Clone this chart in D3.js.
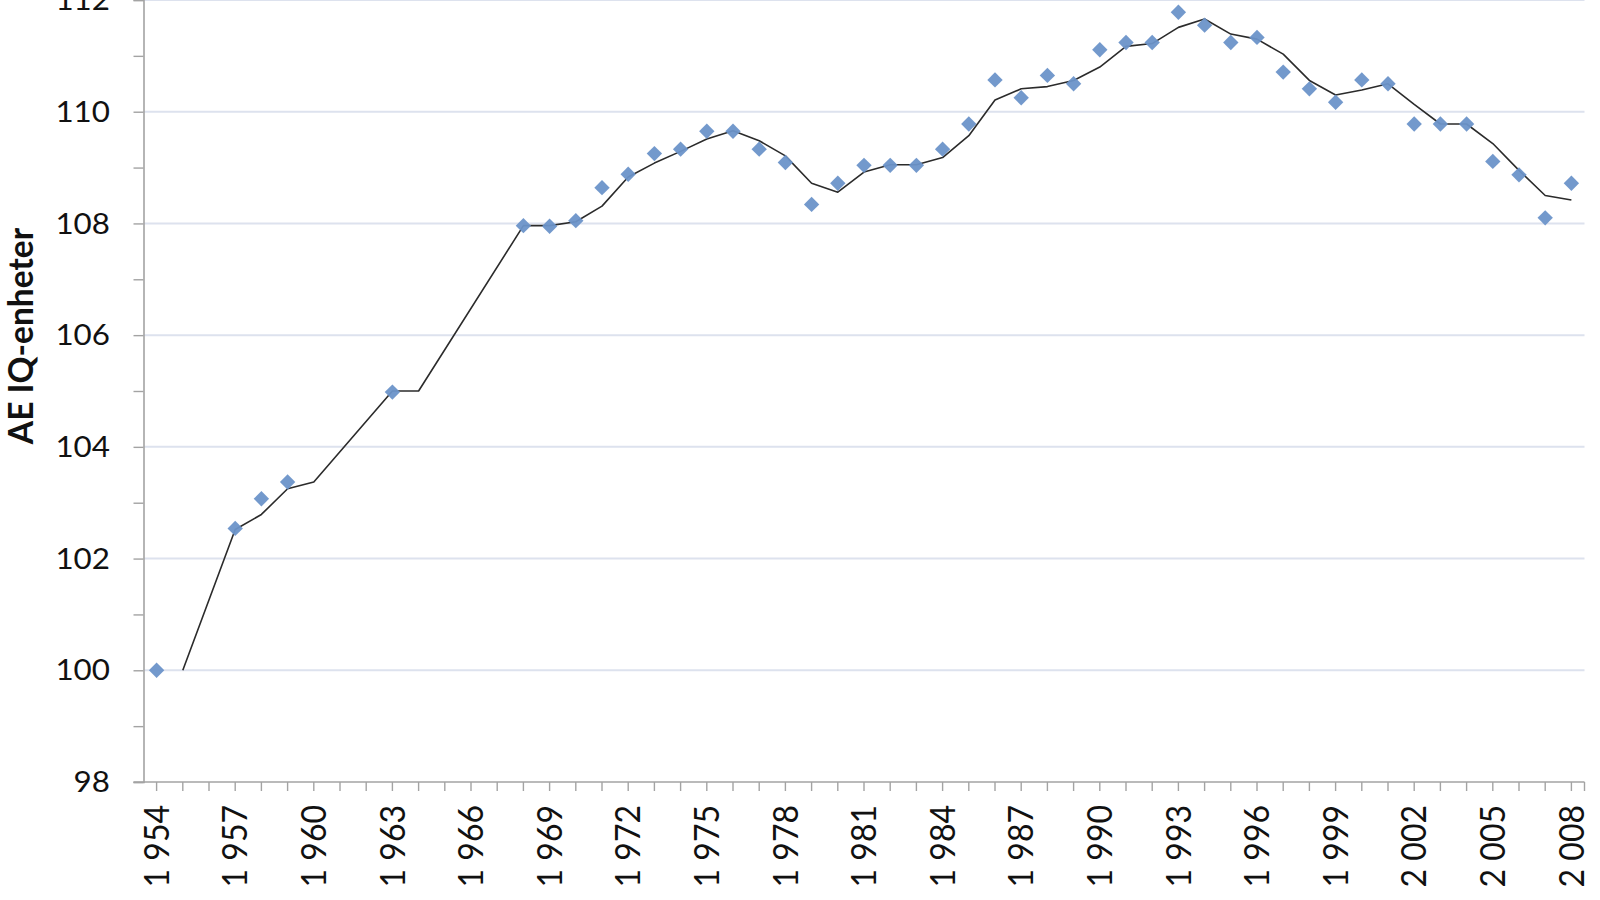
<!DOCTYPE html>
<html>
<head>
<meta charset="utf-8">
<script src="https://cdn.jsdelivr.net/npm/d3@7"></script>
<style>
  html, body { margin: 0; padding: 0; background: #ffffff; }
  svg { display: block; }
  text { font-family: Lato, "Open Sans", sans-serif; fill: #111; }
</style>
</head>
<body>
<svg id="chart" width="1600" height="900"></svg>
<script>
// ---- data ----
const years = d3.range(1954, 2009);

// observed values (diamonds); null = no observation
const observed = [
  100.00, null, null, 102.54, 103.07, 103.37, null, null, null, 104.98,
  null, null, null, null, 107.96, 107.95, 108.05, 108.64, 108.88, 109.25,
  109.33, 109.65, 109.65, 109.33, 109.09, 108.34, 108.72, 109.04, 109.04, 109.04,
  109.33, 109.78, 110.57, 110.25, 110.65, 110.50, 111.11, 111.24, 111.24, 111.78,
  111.55, 111.24, 111.33, 110.71, 110.41, 110.17, 110.57, 110.50, 109.78, 109.78,
  109.78, 109.11, 108.87, 108.10, 108.72
];

// smoothed trend line (black); null = no point at that year
const trend = [
  null, 100.00, null, 102.52, 102.79, 103.25, 103.37, null, null, 105.00,
  105.00, null, null, null, 107.96, 107.96, 108.03, 108.31, 108.83, 109.08,
  109.29, 109.51, 109.66, 109.48, 109.21, 108.72, 108.56, 108.92, 109.05, 109.05,
  109.18, 109.57, 110.21, 110.41, 110.45, 110.56, 110.80, 111.17, 111.22, 111.51,
  111.66, 111.39, 111.30, 111.03, 110.56, 110.30, 110.39, 110.50, 110.13, 109.78,
  109.78, 109.43, 108.95, 108.50, 108.42
];

const yTicks = [98, 100, 102, 104, 106, 108, 110, 112];
const xTickLabels = ["1 954", "1 957", "1 960", "1 963", "1 966", "1 969", "1 972",
  "1 975", "1 978", "1 981", "1 984", "1 987", "1 990", "1 993", "1 996",
  "1 999", "2 002", "2 005", "2 008"];
const yTitle = "AE IQ-enheter";

// ---- layout ----
const svg = d3.select("#chart");
const plotL = 143.5, plotR = 1584.5, plotT = 0, plotB = 782;

const x = d3.scaleBand().domain(years).range([plotL, plotR]).padding(0);
const cx = yr => x(yr) + x.bandwidth() / 2;
const y = d3.scaleLinear().domain([98, 112]).range([plotB, plotT]);

const axisColor = "#a3a3a3";
const gridColor = "#dde2ee";

// gridlines
svg.append("g")
  .selectAll("line")
  .data(yTicks.filter(v => v > 98))
  .join("line")
  .attr("x1", plotL).attr("x2", plotR)
  .attr("y1", d => y(d)).attr("y2", d => y(d))
  .attr("stroke", gridColor).attr("stroke-width", 2);

// y axis
const yAxis = d3.axisLeft(y)
  .tickValues(d3.range(98, 113, 1))
  .tickSize(10)
  .tickFormat(() => "");
const gy = svg.append("g").attr("transform", `translate(${plotL},0)`).call(yAxis);
gy.select(".domain").attr("stroke", axisColor).attr("stroke-width", 1.6);
gy.selectAll(".tick line").attr("stroke", axisColor).attr("stroke-width", 1.4);

// y tick labels
svg.append("g")
  .selectAll("text")
  .data(yTicks)
  .join("text")
  .attr("transform", d => `translate(110,${y(d)}) scale(1.12,1)`)
  .attr("dy", "0.36em")
  .attr("text-anchor", "end")
  .style("font-size", "28px")
  .text(d => d);

// x axis
const xAxis = d3.axisBottom(x)
  .tickSize(9)
  .tickFormat(() => "");
const gx = svg.append("g").attr("transform", `translate(0,${plotB})`).call(xAxis);
gx.select(".domain").remove();
gx.selectAll(".tick line").attr("stroke", axisColor).attr("stroke-width", 1.4);
gx.append("line")
  .attr("x1", plotL - 10).attr("x2", plotR)
  .attr("stroke", axisColor).attr("stroke-width", 1.6);
gx.append("line")
  .attr("x1", plotR).attr("x2", plotR).attr("y1", 0).attr("y2", 9)
  .attr("stroke", axisColor).attr("stroke-width", 1.4);

// x tick labels every 3 years
const labelYears = years.filter((yr, i) => i % 3 === 0);
svg.append("g")
  .selectAll("text")
  .data(labelYears)
  .join("text")
  .attr("transform", (d) => `translate(${cx(d)},805) scale(1.06,1) rotate(-90)`)
  .attr("dy", "0.36em")
  .attr("text-anchor", "end")
  .style("font-size", "32px")
  .text((d, i) => xTickLabels[i]);

// y axis title
svg.append("text")
  .attr("transform", `translate(33,336) rotate(-90)`)
  .attr("text-anchor", "middle")
  .style("font-size", "33.5px")
  .style("font-weight", "bold")
  .text(yTitle);

// trend line
const trendPts = years.map((yr, i) => ({ yr, v: trend[i] })).filter(d => d.v !== null);
svg.append("path")
  .datum(trendPts)
  .attr("fill", "none")
  .attr("stroke", "#2b2b2b")
  .attr("stroke-width", 1.6)
  .attr("stroke-linejoin", "round")
  .attr("d", d3.line().x(d => cx(d.yr)).y(d => y(d.v)));

// diamonds
const obsPts = years.map((yr, i) => ({ yr, v: observed[i] })).filter(d => d.v !== null);
const diamond = d3.symbol().type(d3.symbolSquare).size(118);
svg.append("g")
  .selectAll("path")
  .data(obsPts)
  .join("path")
  .attr("transform", d => `translate(${cx(d.yr)},${y(d.v)}) rotate(45)`)
  .attr("d", diamond)
  .attr("fill", "#6c93c9")
  .attr("opacity", 0.95);
</script>
</body>
</html>
